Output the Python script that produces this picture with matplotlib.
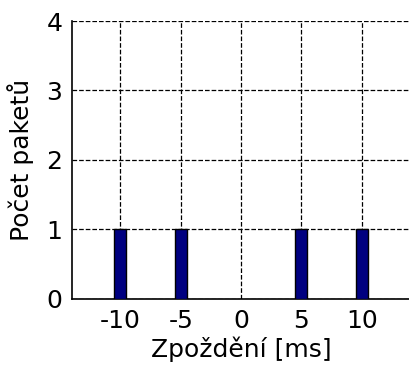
import matplotlib.pyplot as plt

# delay histogram
zpozdeni = [-10, -5, 5, 10]
pocet = [1, 1, 1, 1]
xticks = [-10, -5, 0, 5, 10]

plt.rcParams['font.size'] = 18
plt.rcParams['axes.unicode_minus'] = False
fig = plt.figure(figsize=(4.1, 3.69), dpi=100)
ax = fig.add_axes([0.176, 0.19, 0.824, 0.753])

ax.bar(zpozdeni, pocet, width=1.0, color="navy", edgecolor="black", linewidth=1, zorder=3)

ax.set_xlim(-14, 14)
ax.set_ylim(0, 4)
ax.set_xticks(xticks)
ax.set_yticks([0, 1, 2, 3, 4])
ax.grid(True, color="black", linestyle="--", linewidth=0.9)
ax.tick_params(length=0, pad=7)
ax.spines["top"].set_visible(False)
ax.spines["right"].set_visible(False)
ax.spines["left"].set_linewidth(1.2)
ax.spines["bottom"].set_linewidth(1.2)

ax.set_xlabel("Zpoždění [ms]", labelpad=3)
ax.set_ylabel("Počet paketů", labelpad=9)

plt.savefig("out.png")
